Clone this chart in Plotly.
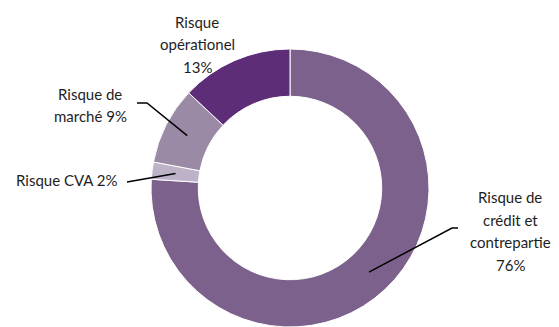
import math
import plotly.graph_objects as go

# ---- data ----
categories = ["Risque de crédit et contrepartie", "Risque CVA", "Risque de marché", "Risque opérationel"]
values = [76, 2, 9, 13]
colors = ["#7B618C", "#BEB2C8", "#9A8AA6", "#5E2D78"]
label_lines = [
    ["Risque de", "crédit et", "contrepartie", "76%"],
    ["Risque CVA 2%"],
    ["Risque de", "marché 9%"],
    ["Risque", "opérationel", "13%"],
]

# ---- layout geometry (page pixels) ----
PAGE_OFF = 8                 # default body margin of the html page
W, H = 559 - PAGE_OFF, 327 - PAGE_OFF
CX, R = 290, 139
CY = H - R + PAGE_OFF        # pie centred in its domain, domain starts at bottom
HOLE = 0.66
LINE_H = 22.5
# label text anchor: (centre x, first line y)
label_pos = [(510, 197), (67, 180), (90, 94), (197, 22)]
# leader: start point and optional elbow (None = no leader)
leader_start = [(458, 228), (127, 182), (137, 103), None]
leader_elbow = [(452, 228), None, (147, 103), None]


def px(x):
    return (x - PAGE_OFF) / W


def py(y):
    return 1 - (y - PAGE_OFF) / H


fig = go.Figure(go.Pie(
    labels=categories,
    values=values,
    marker=dict(colors=colors, line=dict(color="white", width=1)),
    hole=HOLE,
    sort=False,
    direction="clockwise",
    rotation=0,
    textinfo="none",
    hoverinfo="label+percent",
    showlegend=False,
    domain=dict(x=[px(CX - R), px(CX + R)], y=[0, 2 * R / H]),
))

annotations = []
shapes = []
total = sum(values)
cum = 0
for i, v in enumerate(values):
    mid = (cum + v / 2) / total * 2 * math.pi
    cum += v
    lx, ly = label_pos[i]
    for k, line in enumerate(label_lines[i]):
        annotations.append(dict(
            x=px(lx), y=py(ly + k * LINE_H), xref="paper", yref="paper",
            text=line, showarrow=False, xanchor="center", yanchor="middle",
            font=dict(family="Lato, Calibri, sans-serif", size=15, color="#1e1e1e"),
        ))
    if leader_start[i] is not None:
        rr = R * (1 + HOLE) / 2
        ex = CX + rr * math.sin(mid)
        ey = CY - rr * math.cos(mid)
        pts = [leader_start[i]]
        if leader_elbow[i] is not None:
            pts.append(leader_elbow[i])
        pts.append((ex, ey))
        path = "M " + " L ".join(f"{px(x)},{py(y)}" for x, y in pts)
        shapes.append(dict(type="path", path=path, xref="paper", yref="paper",
                           line=dict(color="black", width=1.5)))

fig.update_layout(
    width=W, height=H,
    margin=dict(l=0, r=0, t=0, b=0),
    paper_bgcolor="white", plot_bgcolor="white",
    annotations=annotations,
    shapes=shapes,
)

fig.write_html("out.html")
